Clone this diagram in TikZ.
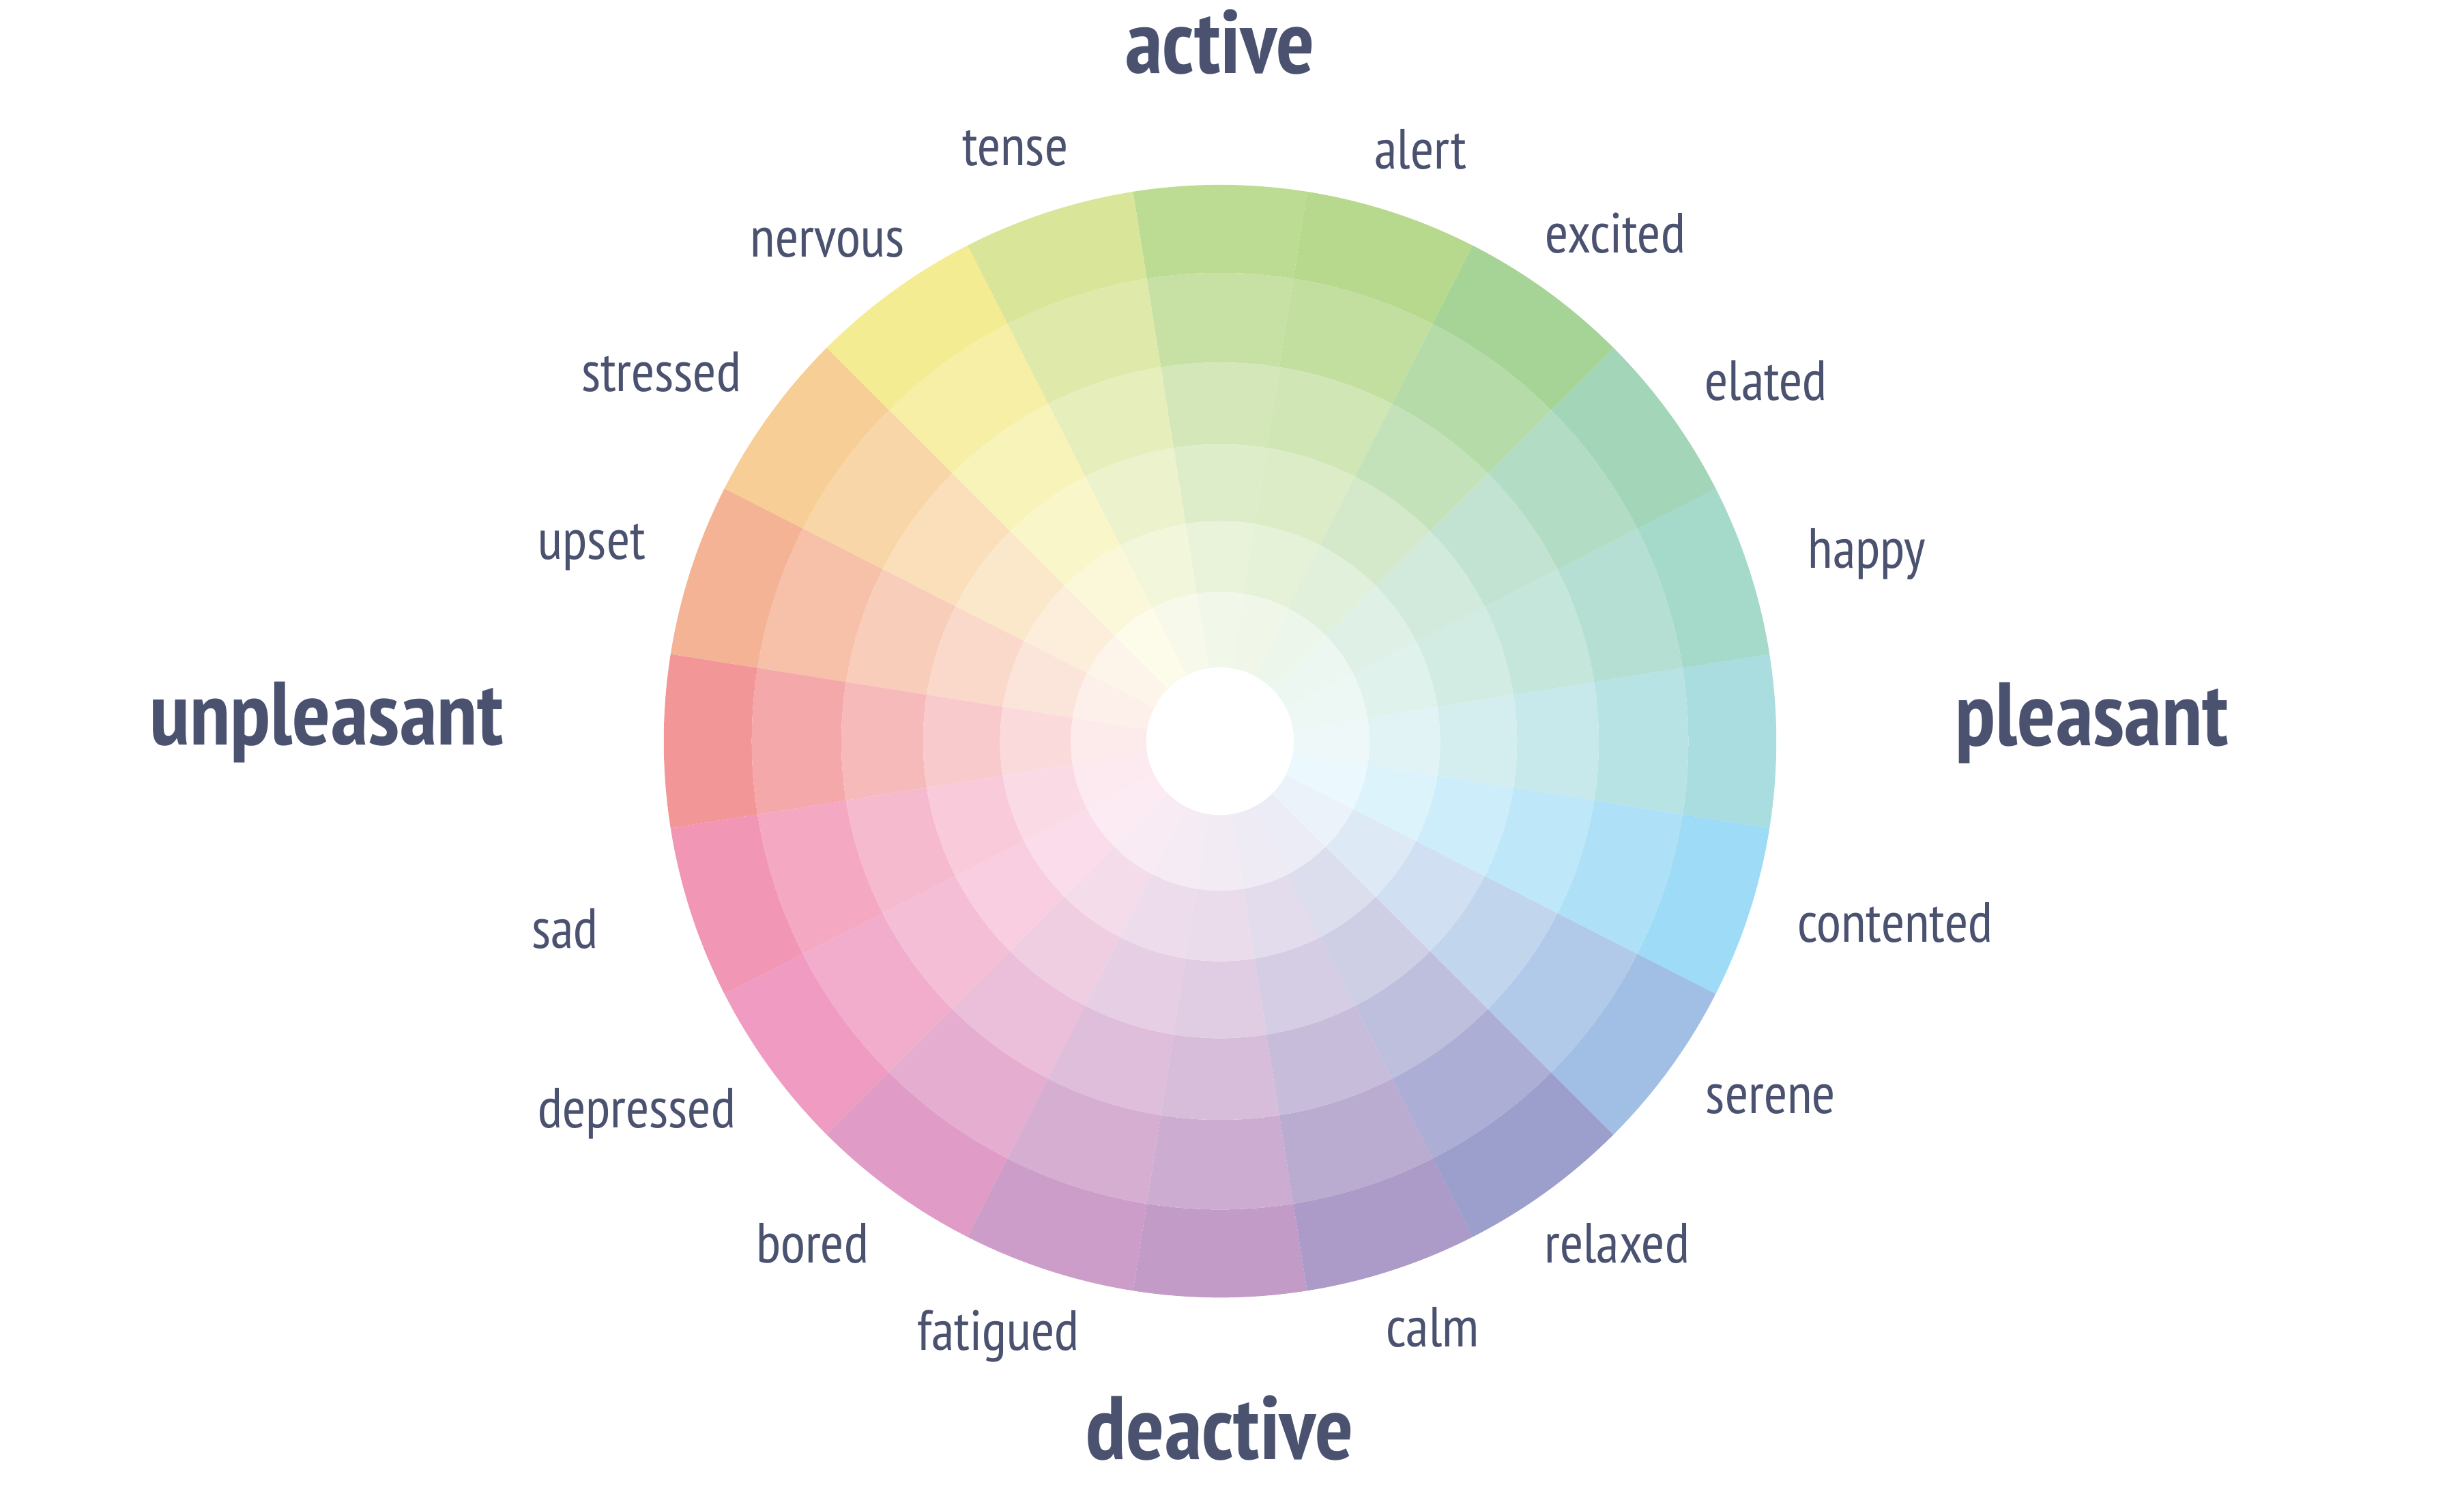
\documentclass[tikz,border=0pt]{standalone}
\usepackage{fontspec}
\newfontfamily\moodfont{PT Sans Narrow}
\definecolor{MoodInk}{HTML}{4A5270}
\definecolor{MoodPleasant}{HTML}{AADDE0}
\definecolor{MoodHappy}{HTML}{A5D9C9}
\definecolor{MoodElated}{HTML}{A3D5B9}
\definecolor{MoodExcited}{HTML}{A6D396}
\definecolor{MoodAlert}{HTML}{B7D98D}
\definecolor{MoodActive}{HTML}{BCDB93}
\definecolor{MoodTense}{HTML}{D9E599}
\definecolor{MoodNervous}{HTML}{F4EC93}
\definecolor{MoodStressed}{HTML}{F7CE96}
\definecolor{MoodUpset}{HTML}{F5B396}
\definecolor{MoodUnpleasant}{HTML}{F39697}
\definecolor{MoodSad}{HTML}{F296B5}
\definecolor{MoodDepressed}{HTML}{F09CC2}
\definecolor{MoodBored}{HTML}{E09CC6}
\definecolor{MoodFatigued}{HTML}{CD9DC9}
\definecolor{MoodDeactive}{HTML}{C29BC7}
\definecolor{MoodCalm}{HTML}{AC9AC8}
\definecolor{MoodRelaxed}{HTML}{9C9ECC}
\definecolor{MoodSerene}{HTML}{A1BFE4}
\definecolor{MoodContented}{HTML}{9DDBF6}

\begin{document}
\begin{tikzpicture}[
    mood label/.style={anchor=base, inner sep=0pt, text=MoodInk,
        font=\moodfont\fontsize{10.25}{12}\selectfont},
    axis label/.style={anchor=base, inner sep=0pt, text=MoodInk,
        font=\moodfont\bfseries\fontsize{16.3}{19}\selectfont}
]
    \useasboundingbox (-7.764,-4.824) rectangle (7.916,4.716);

    % Wheel: 20 sectors of 18 degrees, six rings fading towards the hub.
    \foreach \a/\c [evaluate=\a as \s using \a-9,
                    evaluate=\a as \e using \a+9]
        in {0/MoodPleasant, 18/MoodHappy, 36/MoodElated,
            54/MoodExcited, 72/MoodAlert, 90/MoodActive,
            108/MoodTense, 126/MoodNervous, 144/MoodStressed,
            162/MoodUpset, 180/MoodUnpleasant, 198/MoodSad,
            216/MoodDepressed, 234/MoodBored, 252/MoodFatigued,
            270/MoodDeactive, 288/MoodCalm, 306/MoodRelaxed,
            324/MoodSerene, 342/MoodContented} {
        \foreach \ri/\ro/\p in {2.98/3.54/100, 2.41/2.98/83, 1.89/2.41/66,
                                1.40/1.89/50, 0.95/1.40/35, 0.47/0.95/20} {
            \fill[\c!\p!white] (\s:\ro)
                arc[start angle=\s, end angle=\e, radius=\ro]
                -- (\e:\ri)
                arc[start angle=\e, end angle=\s, radius=\ri] -- cycle;
        }
    }

    % Axis words.
    \node[axis label] (active) at (0,4.25) {active};
    \node[axis label] (deactive) at (0,-4.569) {deactive};
    \node[axis label] (pleasant) at (5.549,-0.028) {pleasant};
    \node[axis label] (unpleasant) at (-5.684,-0.024) {unpleasant};

    % Mood words round the rim.
    \foreach \x/\y/\t in {1.276/3.643/alert, -1.304/3.661/tense,
                          2.516/3.106/excited, -2.499/3.083/nervous,
                          3.474/2.171/elated, -3.556/2.226/stressed,
                          4.116/1.101/happy, -3.997/1.156/upset,
                          4.296/-1.279/contented, -4.169/-1.319/sad,
                          3.504/-2.367/serene, -3.711/-2.458/depressed,
                          2.526/-3.317/relaxed, -2.594/-3.317/bored,
                          1.352/-3.853/calm, -1.412/-3.874/fatigued} {
        \node[mood label] (\t) at (\x,\y) {\t};
    }
\end{tikzpicture}
\end{document}
